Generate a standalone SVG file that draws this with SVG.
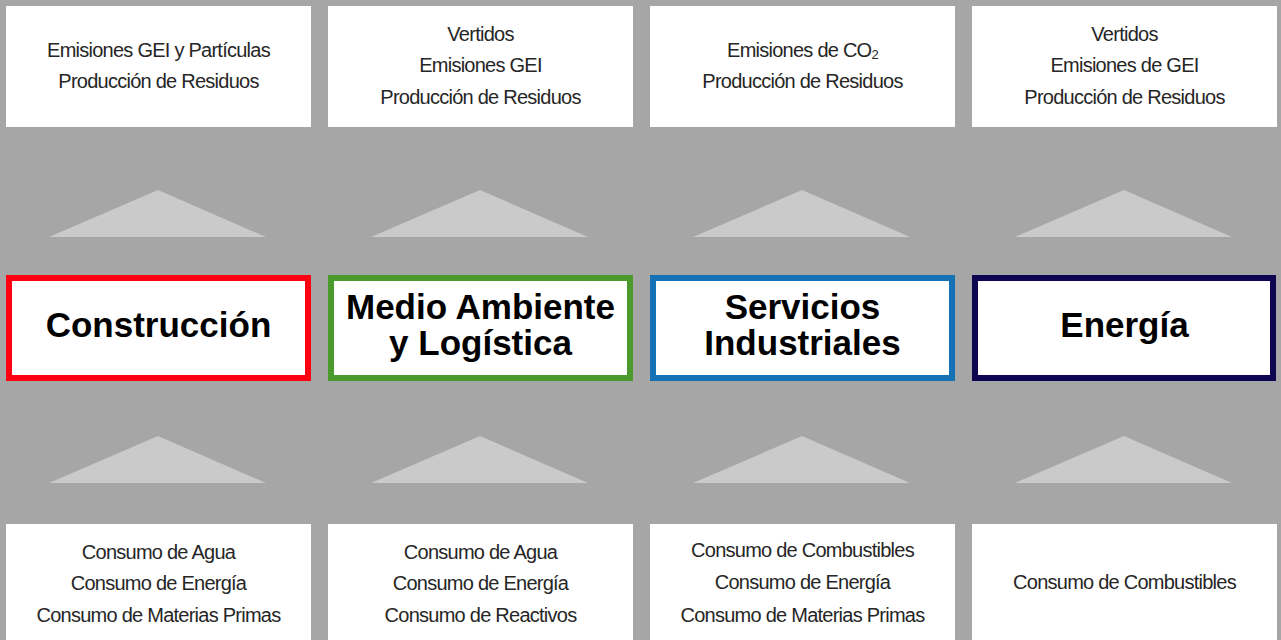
<svg xmlns="http://www.w3.org/2000/svg" width="1281" height="640" viewBox="0 0 1281 640">
<style>
.bg{fill:#a6a6a6}
.box{fill:#ffffff}
.tri{fill:#cacaca}
.t{font-family:"Liberation Sans",Arial,sans-serif;font-size:20px;fill:#262626;text-anchor:middle;letter-spacing:-0.75px}
.h{font-family:"Liberation Sans",Arial,sans-serif;font-size:35px;font-weight:bold;fill:#000;text-anchor:middle}
.sec{fill:#ffffff;stroke-width:6}
</style>
<rect class="bg" x="0" y="0" width="1281" height="640"/>
<g id="connectors">
<polygon class="tri" points="158,190 266,237 49,237"/>
<polygon class="tri" points="480,190 588,237 371,237"/>
<polygon class="tri" points="802,190 910,237 693,237"/>
<polygon class="tri" points="1124,190 1232,237 1015,237"/>
<polygon class="tri" points="158,436 266,483 49,483"/>
<polygon class="tri" points="480,436 588,483 371,483"/>
<polygon class="tri" points="802,436 910,483 693,483"/>
<polygon class="tri" points="1124,436 1232,483 1015,483"/>
</g>
<g id="out1"><rect class="box" x="6" y="6" width="305" height="121"/>
<text class="t" x="158.5" y="57">Emisiones GEI y Partículas</text>
<text class="t" x="158.5" y="88">Producción de Residuos</text></g>
<g id="out2"><rect class="box" x="328" y="6" width="305" height="121"/>
<text class="t" x="480.5" y="41">Vertidos</text>
<text class="t" x="480.5" y="72">Emisiones GEI</text>
<text class="t" x="480.5" y="104">Producción de Residuos</text></g>
<g id="out3"><rect class="box" x="650" y="6" width="305" height="121"/>
<text class="t" x="802.5" y="57">Emisiones de CO<tspan font-size="13" dy="2">2</tspan></text>
<text class="t" x="802.5" y="88">Producción de Residuos</text></g>
<g id="out4"><rect class="box" x="972" y="6" width="305" height="121"/>
<text class="t" x="1124.5" y="41">Vertidos</text>
<text class="t" x="1124.5" y="72">Emisiones de GEI</text>
<text class="t" x="1124.5" y="104">Producción de Residuos</text></g>
<g id="construccion"><rect class="sec" x="9" y="278" width="299" height="100" stroke="#ff0010"/>
<text class="h" x="158.5" y="337">Construcción</text></g>
<g id="medioambiente"><rect class="sec" x="331" y="278" width="299" height="100" stroke="#4a9b2c"/>
<text class="h" x="480.5" y="319">Medio Ambiente</text>
<text class="h" x="480.5" y="355">y Logística</text></g>
<g id="servicios"><rect class="sec" x="653" y="278" width="299" height="100" stroke="#1471b5"/>
<text class="h" x="802.5" y="319">Servicios</text>
<text class="h" x="802.5" y="355">Industriales</text></g>
<g id="energia"><rect class="sec" x="975" y="278" width="298" height="100" stroke="#0e0650"/>
<text class="h" x="1124.5" y="337">Energía</text></g>
<g id="in1"><rect class="box" x="6" y="524" width="305" height="116"/>
<text class="t" x="158.5" y="559">Consumo de Agua</text>
<text class="t" x="158.5" y="590">Consumo de Energía</text>
<text class="t" x="158.5" y="622">Consumo de Materias Primas</text></g>
<g id="in2"><rect class="box" x="328" y="524" width="305" height="116"/>
<text class="t" x="480.5" y="559">Consumo de Agua</text>
<text class="t" x="480.5" y="590">Consumo de Energía</text>
<text class="t" x="480.5" y="622">Consumo de Reactivos</text></g>
<g id="in3"><rect class="box" x="650" y="524" width="305" height="116"/>
<text class="t" x="802.5" y="557">Consumo de Combustibles</text>
<text class="t" x="802.5" y="589">Consumo de Energía</text>
<text class="t" x="802.5" y="622">Consumo de Materias Primas</text></g>
<g id="in4"><rect class="box" x="972" y="524" width="305" height="116"/>
<text class="t" x="1124.5" y="589">Consumo de Combustibles</text></g>
</svg>
